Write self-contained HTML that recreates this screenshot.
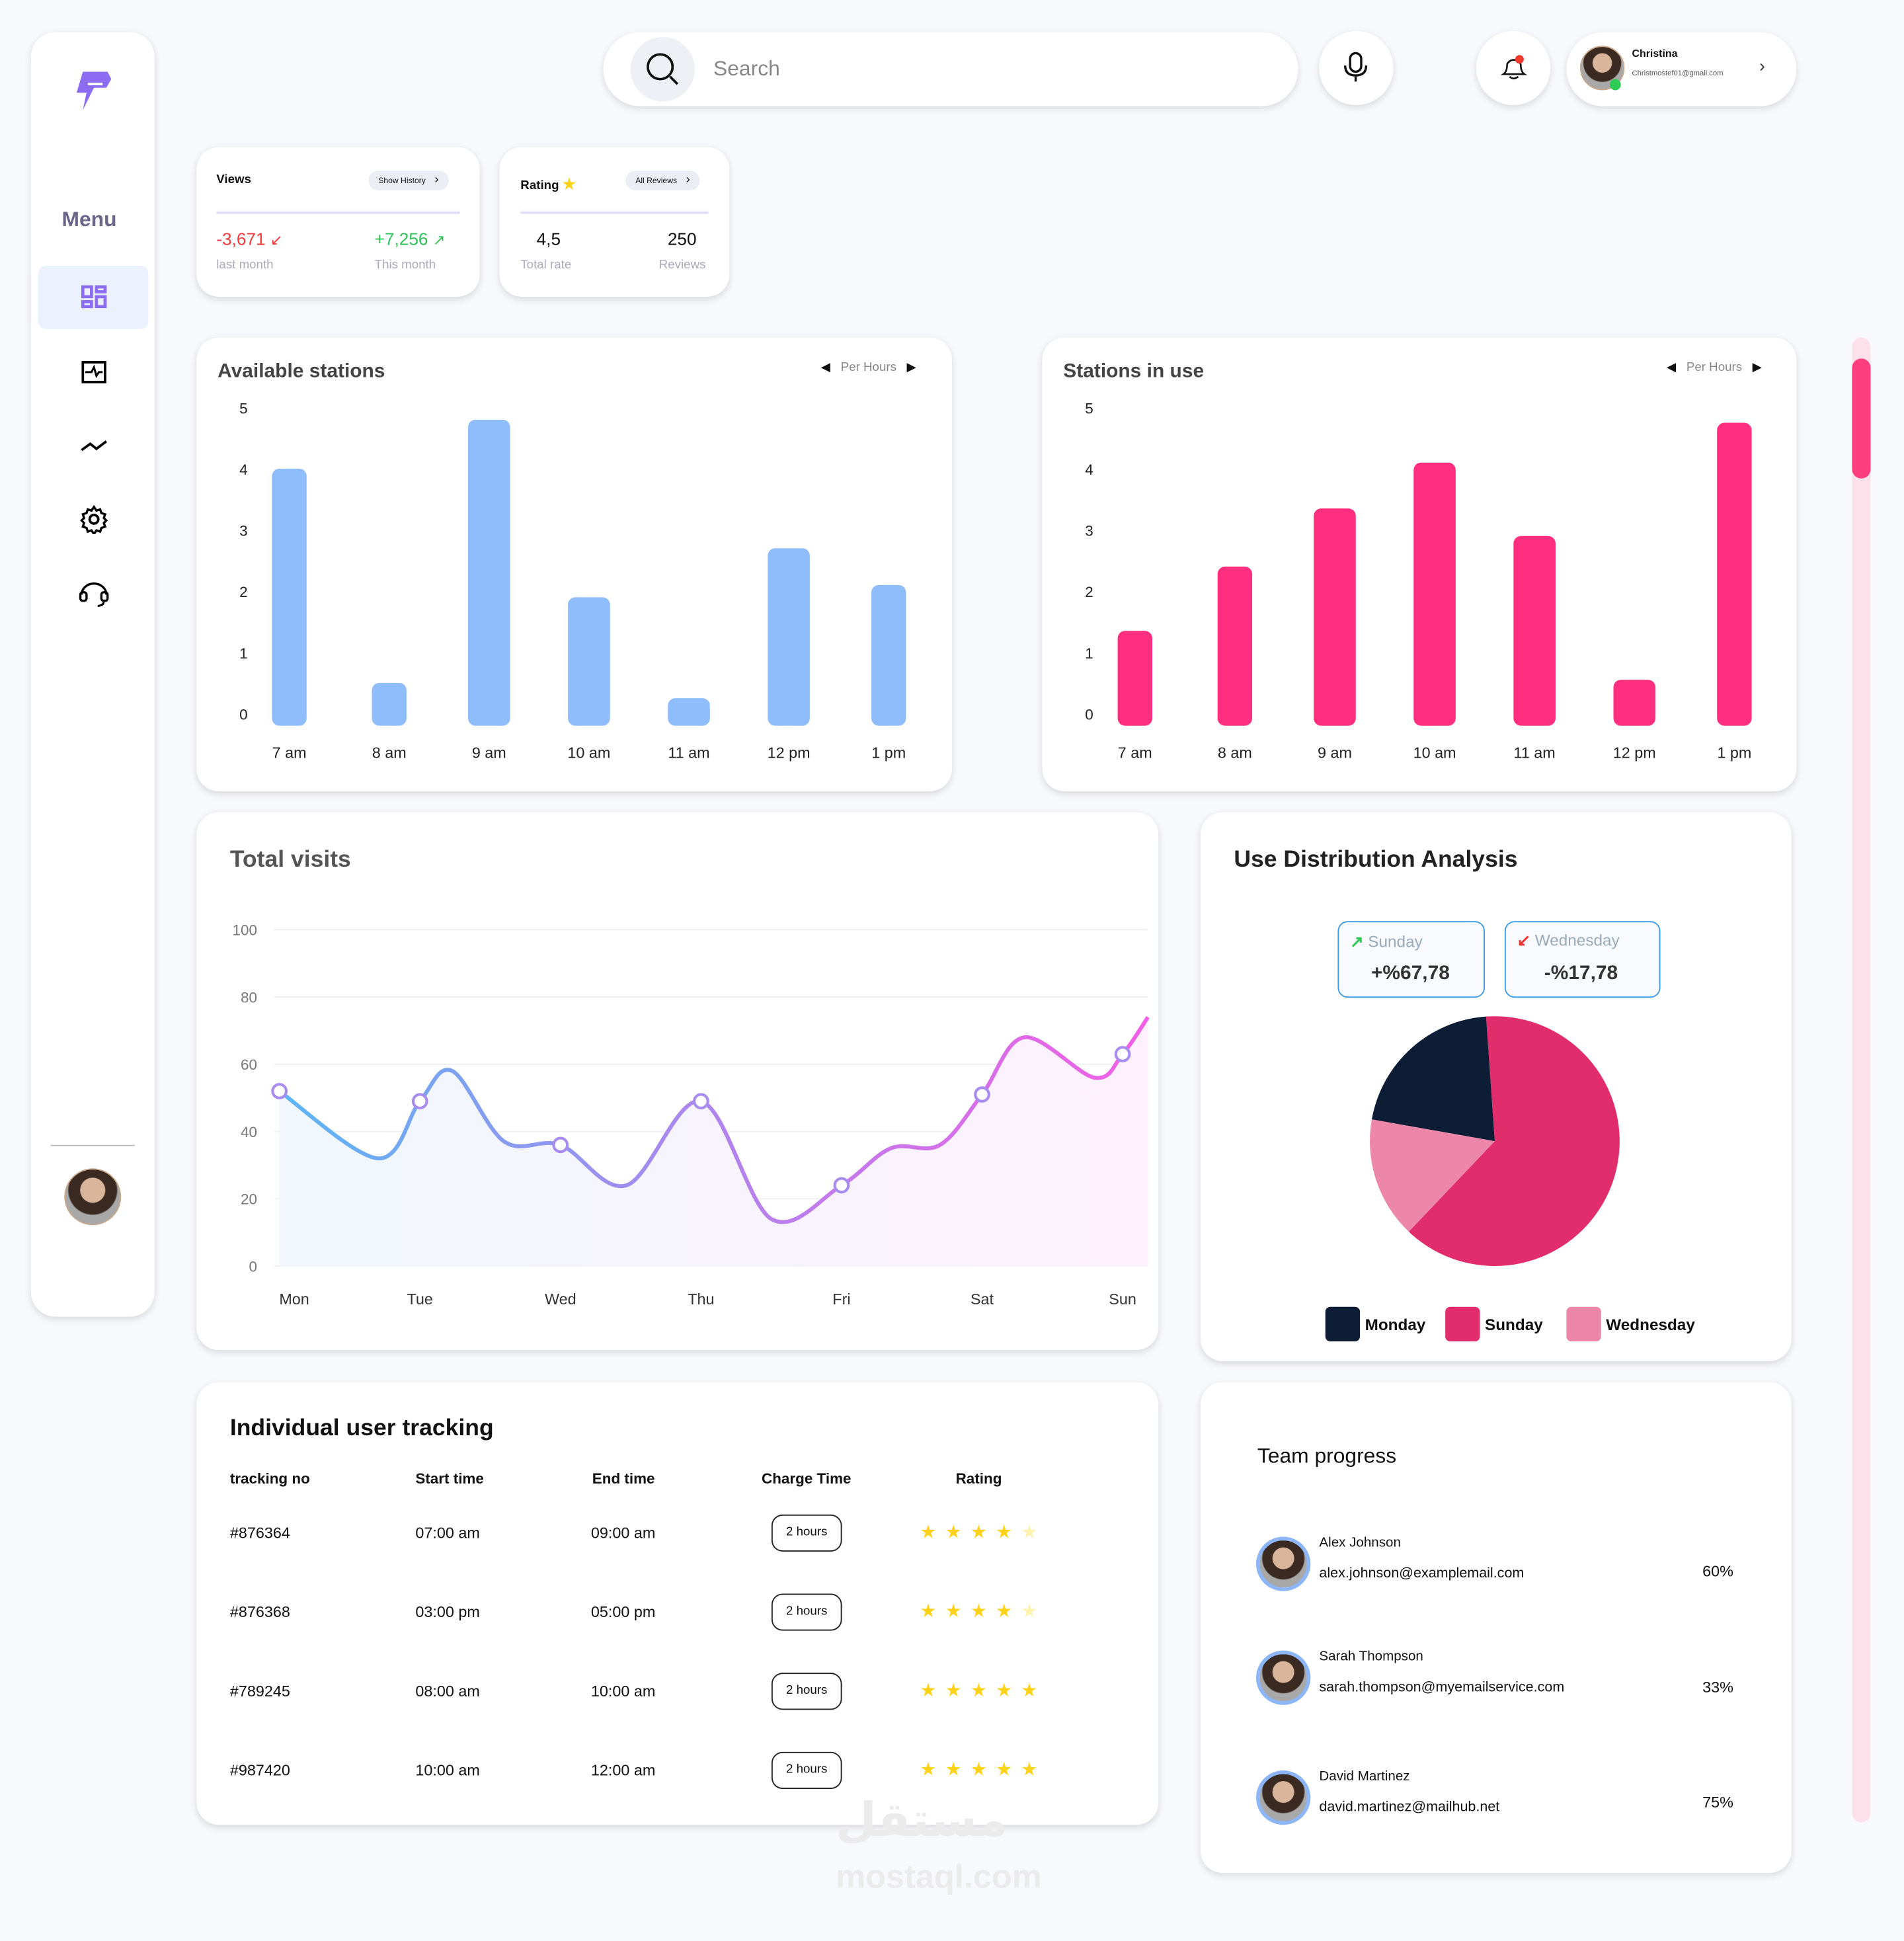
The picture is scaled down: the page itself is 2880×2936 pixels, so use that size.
<!DOCTYPE html>
<html><head><meta charset="utf-8">
<style>
html,body{margin:0;padding:0;background:#f8f9fd;width:2880px;height:2936px;overflow:hidden}
#page{position:absolute;left:0;top:0;width:1540px;height:1570px;transform:scale(1.8701,1.8701);transform-origin:0 0;font-family:"Liberation Sans",sans-serif;color:#111}
.card{position:absolute;background:#fff;border-radius:18px;box-shadow:0 2px 6px rgba(0,0,0,.13)}
.abs{position:absolute}
.t{position:absolute;white-space:nowrap}
.pill{position:absolute;background:#eceef6;border-radius:10px;font-size:6.5px;padding:0 8px;height:16px;line-height:16px}
.hr{position:absolute;height:2px;background:#e2dcfa}
.th{font-size:12px;font-weight:bold}
.td{font-size:12.5px}
.hours{position:absolute;border:1.3px solid #222;border-radius:9px;font-size:10px;width:55px;height:28px;line-height:28px;text-align:center}
.stars{position:absolute;font-size:15px;letter-spacing:7px;color:#ffd21a}
.av{position:absolute;border-radius:50%;border:3px solid #8cb6f8;background:radial-gradient(circle at 50% 38%,#d9b59b 0 28%,#3b2a22 30% 55%,#a8a8a8 58%)}
</style></head><body>
<div id="page">

<!-- sidebar -->
<div class="card" style="left:25px;top:26px;width:100px;height:1039px;border-radius:20px">
  <svg class="abs" style="left:36px;top:30px" width="30" height="36" viewBox="0 0 30 36"><path d="M6 2h20l3 6-4 7H15l-9 18 3-14H1z" fill="#8c6cf0"/><path d="M10 12h12" stroke="#fff" stroke-width="2"/></svg>
  <div class="t" style="left:25px;top:142px;font-size:17px;font-weight:bold;color:#6b6589">Menu</div>
  <div class="abs" style="left:6px;top:189px;width:89px;height:51px;border-radius:6px;background:#ebf1fd"></div>
  <svg class="abs" style="left:40px;top:204px" width="22" height="22"><g fill="none" stroke="#8c6cf0" stroke-width="2.5"><rect x="2" y="2" width="7" height="8"/><rect x="2" y="14" width="7" height="4"/><rect x="13" y="2" width="7" height="4"/><rect x="13" y="10" width="7" height="8"/></g></svg>
  <svg class="abs" style="left:40px;top:264px" width="22" height="22"><rect x="2" y="3" width="18" height="16" fill="none" stroke="#000" stroke-width="2"/><path d="M4 11h5l2-4 2 7 2-3h3" fill="none" stroke="#000" stroke-width="1.6"/></svg>
  <svg class="abs" style="left:39px;top:324px" width="24" height="20"><path d="M2 14l7-5 5 4 8-6" fill="none" stroke="#000" stroke-width="2"/></svg>
  <svg class="abs" style="left:39px;top:382px" width="24" height="24"><circle cx="12" cy="12" r="3.5" fill="none" stroke="#000" stroke-width="2"/><path d="M12 2l2 3 3-1 1 3 3 1-1 3 2 2-2 2 1 3-3 1-1 3-3-1-2 3-2-3-3 1-1-3-3-1 1-3-2-2 2-2-1-3 3-1 1-3 3 1z" fill="none" stroke="#000" stroke-width="1.8"/></svg>
  <svg class="abs" style="left:38px;top:442px" width="26" height="24"><path d="M3 13a10 9 0 0 1 20 0" fill="none" stroke="#000" stroke-width="1.8"/><rect x="2" y="11" width="5" height="7" rx="2" fill="none" stroke="#000" stroke-width="1.8"/><rect x="19" y="11" width="5" height="7" rx="2" fill="none" stroke="#000" stroke-width="1.8"/><path d="M21 18q0 4-5 4" fill="none" stroke="#000" stroke-width="1.6"/></svg>
  <div class="abs" style="left:16px;top:900px;width:68px;height:1px;background:#bbb"></div>
  <div class="av" style="left:27px;top:919px;width:44px;height:44px;border:1px solid #c8a88c"></div>
</div>

<!-- header -->
<div class="card" style="left:488px;top:26px;width:562px;height:60px;border-radius:30px">
  <div class="abs" style="left:22px;top:4px;width:52px;height:52px;border-radius:50%;background:#eef0f5"></div>
  <svg class="abs" style="left:33px;top:15px" width="30" height="30"><circle cx="13" cy="13" r="10" fill="none" stroke="#111" stroke-width="2"/><path d="M21 21l6 6" stroke="#111" stroke-width="2"/></svg>
  <div class="t" style="left:89px;top:20px;font-size:17px;color:#888">Search</div>
</div>
<div class="card" style="left:1067px;top:25px;width:60px;height:60px;border-radius:50%">
  <svg class="abs" style="left:19px;top:16px" width="22" height="28"><rect x="6" y="2" width="9" height="15" rx="4.5" fill="none" stroke="#111" stroke-width="1.8"/><path d="M2 12q0 8 8.5 8t8.5-8M10.5 20v5" fill="none" stroke="#111" stroke-width="1.8"/></svg>
</div>
<div class="card" style="left:1194px;top:25px;width:60px;height:60px;border-radius:50%">
  <svg class="abs" style="left:18px;top:18px" width="26" height="26"><path d="M4 17q3-2 3-8a6 6 0 0 1 11 0q0 6 3 8z M9 19q3 3 7 0" fill="none" stroke="#111" stroke-width="1.4"/><circle cx="17" cy="5" r="3.5" fill="#f0392d"/></svg>
</div>
<div class="card" style="left:1267px;top:26px;width:186px;height:60px;border-radius:30px">
  <div class="av" style="left:11px;top:11px;width:34px;height:34px;border:1px solid #c8a88c"></div>
  <div class="abs" style="left:35px;top:38px;width:9px;height:9px;border-radius:50%;background:#2ecc55"></div>
  <div class="t" style="left:53px;top:12px;font-size:8.5px;font-weight:bold">Christina</div>
  <div class="t" style="left:53px;top:31px;font-size:6px;color:#555">Christmostef01@gmail.com</div>
  <div class="t" style="left:156px;top:19px;font-size:14px;color:#333">›</div>
</div>

<!-- views -->
<div class="card" style="left:159px;top:119px;width:229px;height:121px">
  <div class="t" style="left:16px;top:21px;font-size:10px;font-weight:bold">Views</div>
  <div class="pill" style="left:139px;top:19px">Show History &nbsp;&nbsp;&nbsp;<span style="font-size:10px">›</span></div>
  <div class="hr" style="left:16px;top:52px;width:197px"></div>
  <div class="t" style="left:16px;top:66px;font-size:14px;color:#f03c3c">-3,671 <span style="font-size:12px">↙</span></div>
  <div class="t" style="left:144px;top:66px;font-size:14px;color:#33c15a">+7,256 <span style="font-size:12px">↗</span></div>
  <div class="t" style="left:16px;top:90px;font-size:10px;color:#aab">last month</div>
  <div class="t" style="left:144px;top:90px;font-size:10px;color:#aab">This month</div>
</div>
<div class="card" style="left:404px;top:119px;width:186px;height:121px">
  <div class="t" style="left:17px;top:23px;font-size:10px;font-weight:bold">Rating <span style="color:#ffd21a;font-size:12px">★</span></div>
  <div class="pill" style="left:102px;top:19px">All Reviews &nbsp;&nbsp;&nbsp;<span style="font-size:10px">›</span></div>
  <div class="hr" style="left:17px;top:52px;width:152px"></div>
  <div class="t" style="left:30px;top:66px;font-size:14px">4,5</div>
  <div class="t" style="left:136px;top:66px;font-size:14px">250</div>
  <div class="t" style="left:17px;top:90px;font-size:10px;color:#aab">Total rate</div>
  <div class="t" style="left:129px;top:90px;font-size:10px;color:#aab">Reviews</div>
</div>

<!-- bar charts cards -->
<div class="card" style="left:159px;top:273px;width:611px;height:367px">
  <div class="t" style="left:17px;top:19px;font-size:16px;font-weight:bold;color:#444">Available stations</div>
  <div class="t" style="left:505px;top:19px;font-size:10px;color:#888"><span style="color:#111">◀</span> &nbsp;&nbsp;Per Hours &nbsp;&nbsp;<span style="color:#111">▶</span></div>
</div>
<div class="card" style="left:843px;top:273px;width:610px;height:367px">
  <div class="t" style="left:17px;top:19px;font-size:16px;font-weight:bold;color:#444">Stations in use</div>
  <div class="t" style="left:505px;top:19px;font-size:10px;color:#888"><span style="color:#111">◀</span> &nbsp;&nbsp;Per Hours &nbsp;&nbsp;<span style="color:#111">▶</span></div>
</div>

<div class="card" style="left:159px;top:657px;width:778px;height:435px">
  <div class="t" style="left:27px;top:28px;font-size:19px;font-weight:bold;color:#555">Total visits</div>
</div>
<div class="card" style="left:971px;top:657px;width:478px;height:444px">
  <div class="t" style="left:27px;top:28px;font-size:19px;font-weight:bold;color:#222">Use Distribution Analysis</div>
  <div class="abs" style="left:111px;top:88px;width:117px;height:60px;border:1.5px solid #3a9ae8;border-radius:8px;background:#f8fafd">
    <div class="t" style="left:9px;top:8px;font-size:13px;color:#9ab"><span style="color:#2ecc55;font-weight:bold">↗</span> Sunday</div>
    <div class="t" style="left:26px;top:33px;font-size:16px;font-weight:bold;color:#333">+%67,78</div>
  </div>
  <div class="abs" style="left:246px;top:88px;width:124px;height:60px;border:1.5px solid #3a9ae8;border-radius:8px;background:#f8fafd">
    <div class="t" style="left:9px;top:7px;font-size:13px;color:#9ab"><span style="color:#e33;font-weight:bold">↙</span> Wednesday</div>
    <div class="t" style="left:31px;top:33px;font-size:16px;font-weight:bold;color:#333">-%17,78</div>
  </div>
</div>

<!-- tracking table -->
<div class="card" style="left:159px;top:1118px;width:778px;height:358px">
  <div class="t" style="left:27px;top:27px;font-size:19px;font-weight:bold">Individual user tracking</div>
  <div class="t th" style="left:27px;top:71px">tracking no</div>
  <div class="t th" style="left:177px;top:71px">Start time</div>
  <div class="t th" style="left:320px;top:71px">End time</div>
  <div class="t th" style="left:457px;top:71px">Charge Time</div>
  <div class="t th" style="left:614px;top:71px">Rating</div>
  <div>
    <div class="t td" style="left:27px;top:115px">#876364</div><div class="t td" style="left:177px;top:115px">07:00 am</div><div class="t td" style="left:319px;top:115px">09:00 am</div>
    <div class="hours" style="left:465px;top:107px">2 hours</div><div class="stars" style="left:585px;top:112px">★★★★<span style="color:#fff3b0">★</span></div></div>
  <div>
    <div class="t td" style="left:27px;top:179px">#876368</div><div class="t td" style="left:177px;top:179px">03:00 pm</div><div class="t td" style="left:319px;top:179px">05:00 pm</div>
    <div class="hours" style="left:465px;top:171px">2 hours</div><div class="stars" style="left:585px;top:176px">★★★★<span style="color:#fff3b0">★</span></div></div>
  <div>
    <div class="t td" style="left:27px;top:243px">#789245</div><div class="t td" style="left:177px;top:243px">08:00 am</div><div class="t td" style="left:319px;top:243px">10:00 am</div>
    <div class="hours" style="left:465px;top:235px">2 hours</div><div class="stars" style="left:585px;top:240px">★★★★★</div></div>
  <div>
    <div class="t td" style="left:27px;top:307px">#987420</div><div class="t td" style="left:177px;top:307px">10:00 am</div><div class="t td" style="left:319px;top:307px">12:00 am</div>
    <div class="hours" style="left:465px;top:299px">2 hours</div><div class="stars" style="left:585px;top:304px">★★★★★</div></div>
</div>

<!-- team -->
<div class="card" style="left:971px;top:1118px;width:478px;height:397px">
  <div class="t" style="left:46px;top:50px;font-size:17px">Team progress</div>
  <div>
    <div class="av" style="left:45px;top:125px;width:38px;height:38px"></div>
    <div class="t" style="left:96px;top:124px;font-size:11px">Alex Johnson</div>
    <div class="t" style="left:96px;top:149px;font-size:11.5px">alex.johnson@examplemail.com</div>
    <div class="t" style="left:406px;top:146px;font-size:12.5px">60%</div></div>
  <div>
    <div class="av" style="left:45px;top:217px;width:38px;height:38px"></div>
    <div class="t" style="left:96px;top:216px;font-size:11px">Sarah Thompson</div>
    <div class="t" style="left:96px;top:241px;font-size:11.5px">sarah.thompson@myemailservice.com</div>
    <div class="t" style="left:406px;top:240px;font-size:12.5px">33%</div></div>
  <div>
    <div class="av" style="left:45px;top:314px;width:38px;height:38px"></div>
    <div class="t" style="left:96px;top:313px;font-size:11px">David Martinez</div>
    <div class="t" style="left:96px;top:338px;font-size:11.5px">david.martinez@mailhub.net</div>
    <div class="t" style="left:406px;top:333px;font-size:12.5px">75%</div></div>
</div>

<!-- scrollbar -->
<div class="abs" style="left:1498px;top:273px;width:15px;height:1201px;border-radius:8px;background:#fde0ea"></div>
<div class="abs" style="left:1498px;top:290px;width:15px;height:97px;border-radius:8px;background:#ff3d7f"></div>

<div class="t" style="left:676px;top:1450px;font-size:38px;font-weight:bold;color:#ebebeb;font-family:'DejaVu Sans',sans-serif">مستقل</div>
<div class="t" style="left:676px;top:1503px;font-size:27px;font-weight:bold;color:#ebebeb">mostaql.com</div>

<svg id="charts" class="abs" style="left:0;top:0" width="1540" height="1570">
<defs>
  <linearGradient id="lg" x1="226" x2="928" y1="0" y2="0" gradientUnits="userSpaceOnUse"><stop offset="0" stop-color="#5cb6f5"/><stop offset="0.5" stop-color="#b084ee"/><stop offset="1" stop-color="#f25fe6"/></linearGradient>
  <linearGradient id="fg" x1="226" x2="928" y1="0" y2="0" gradientUnits="userSpaceOnUse"><stop offset="0" stop-color="#f1f7fd"/><stop offset="1" stop-color="#fdf1fd"/></linearGradient>
</defs>
</svg>
</div>

<script>
// ---- bar chart data ----
const hourLabels = ["7 am","8 am","9 am","10 am","11 am","12 pm","1 pm"];
const availableValues = [4.2, 0.7, 5.0, 2.1, 0.45, 2.9, 2.3];
const inUseValues = [1.55, 2.6, 3.55, 4.3, 3.1, 0.75, 4.95];
const barTicks = [0,1,2,3,4,5];
// ---- line chart data ----
const dayLabels = ["Mon","Tue","Wed","Thu","Fri","Sat","Sun"];
const visitPos = [0,0.7,1,1.23,1.6,2,2.47,3,3.5,4,4.35,4.7,5,5.3,5.8,6,6.18];
const visitValues = [52,32,49,58,37,36,24,49,14,24,35,36,51,68,56,63,74];
const visitMarkerDays = [0,1,2,3,4,5,6];
const visitTicks = [0,20,40,60,80,100];
// ---- pie data ----
const pieLabels = ["Sunday","Wednesday","Monday"];
const pieValues = [63.2, 15.7, 21.1];
const pieColors = ["#e12d6c","#ec87a9","#0d1d36"];

const NS="http://www.w3.org/2000/svg";
const svg=document.getElementById('charts');
function mk(tag,attrs,parent){const e=document.createElementNS(NS,tag);for(const k in attrs)e.setAttribute(k,attrs[k]);(parent||svg).appendChild(e);return e;}
function txt(x,y,s,attrs){const e=mk('text',Object.assign({x:x,y:y,'font-family':'Liberation Sans, sans-serif'},attrs));e.textContent=s;return e;}

function barChart(x0,values,color,name){
  const base=587, unit=49.5, step=80.8, first=x0;
  const ys=v=>base-v*unit;
  barTicks.forEach(t=>{const e=txt(x0-37,ys(t)-5,String(t),{'font-size':12,'text-anchor':'middle',fill:'#222'});
    
    });
  values.forEach((v,i)=>{const cx=first+i*step, w=(i==0||i==1||i==6)?28:34;
    const h=Math.max(v*unit,0);
    const r=mk('rect',{x:cx-w/2,y:base-h,width:w,height:h,rx:Math.min(6,h/2),fill:color});
    
    
    const l=txt(cx,613,hourLabels[i],{'font-size':12.5,'text-anchor':'middle',fill:'#222'});
    
    });
}
barChart(234,availableValues,'#8fbdfb','available');
barChart(918,inUseValues,'#ff2e7e','in-use');

// line chart
const lx=d=>226+d*113.67, ly=v=>1024-v*2.72;
visitTicks.forEach(t=>{
  mk('line',{x1:222,x2:928,y1:ly(t),y2:ly(t),stroke:'#eef0f4','stroke-width':1});
  const e=txt(208,ly(t)+4.5,String(t),{'font-size':12,'text-anchor':'end',fill:'#777'});
  
  
});
dayLabels.forEach((d,i)=>{const x=i==0?238:lx(i);const e=txt(x,1055,d,{'font-size':12.5,'text-anchor':'middle',fill:'#333'});
  
  });
const pts=visitPos.map((p,i)=>[lx(p),ly(visitValues[i])]);
function smooth(p){let d='M'+p[0][0]+','+p[0][1];for(let i=0;i<p.length-1;i++){const p0=p[i-1]||p[i],p1=p[i],p2=p[i+1],p3=p[i+2]||p2;
  const c1=[p1[0]+(p2[0]-p0[0])/6,p1[1]+(p2[1]-p0[1])/6],c2=[p2[0]-(p3[0]-p1[0])/6,p2[1]-(p3[1]-p1[1])/6];
  d+=' C'+c1[0]+','+c1[1]+' '+c2[0]+','+c2[1]+' '+p2[0]+','+p2[1];}return d;}
const d=smooth(pts);
const area=mk('path',{d:d+' L'+pts[pts.length-1][0]+','+ly(0)+' L'+pts[0][0]+','+ly(0)+' Z',fill:'url(#fg)'});


const line=mk('path',{d:d,fill:'none',stroke:'url(#lg)','stroke-width':3.2});


visitMarkerDays.forEach(dd=>{const idx=visitPos.indexOf(dd);
  const c=mk('circle',{cx:lx(dd),cy:ly(visitValues[idx]),r:5.5,fill:'#fff',stroke:'#a98cf0','stroke-width':2.2});
  
  });

// pie
const pcx=1209, pcy=923, pr=101;
let ang=-4;const total=pieValues.reduce((a,b)=>a+b,0);
pieValues.forEach((v,i)=>{const sweep=v/total*360;const a0=(ang-90)*Math.PI/180,a1=(ang+sweep-90)*Math.PI/180;
  const p=mk('path',{d:`M${pcx},${pcy} L${pcx+pr*Math.cos(a0)},${pcy+pr*Math.sin(a0)} A${pr},${pr} 0 ${sweep>180?1:0} 1 ${pcx+pr*Math.cos(a1)},${pcy+pr*Math.sin(a1)} Z`,fill:pieColors[i]});
  
  
  ang+=sweep;});
// legend: Monday, Sunday, Wednesday
const legendOrder=[2,0,1], legendX=[1072,1169,1267];
legendOrder.forEach((k,j)=>{
  const r=mk('rect',{x:legendX[j],y:1057,width:28,height:28,rx:4,fill:pieColors[k]});
  
  
  const t=txt(legendX[j]+32,1076,pieLabels[k],{'font-size':13,'font-weight':'bold',fill:'#111'});
  
  });
</script>
</body></html>
